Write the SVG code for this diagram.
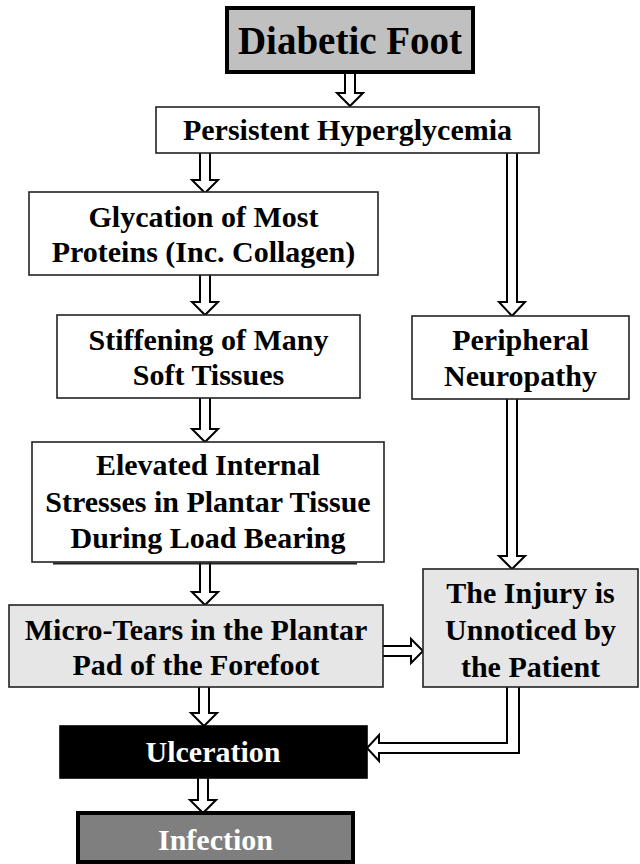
<svg xmlns="http://www.w3.org/2000/svg" width="640" height="864" viewBox="0 0 640 864">
<style>
.bg{fill:#ffffff}
.box{fill:#ffffff;stroke:#222;stroke-width:1.6}
.lgt{fill:#e6e6e6;stroke:#222;stroke-width:1.6}
.ttl{fill:#c0c0c0;stroke:#000;stroke-width:4}
.inf{fill:#7f7f7f;stroke:#000;stroke-width:4}
.blk{fill:#000;stroke:#000;stroke-width:1.6}
.t{font-family:"Liberation Serif","Times New Roman",serif;font-weight:bold;font-size:30px;fill:#000;text-anchor:middle}
.w{fill:#fff}
.big{font-size:39px}
.arr{fill:#fff;stroke:#000;stroke-width:2;stroke-linejoin:miter}
</style>
<rect class="bg" x="0" y="0" width="640" height="864"/>

<g id="connectors">
  <path class="arr" d="M345,72 L345,93 L337,93 L350,106 L363,93 L355,93 L355,72"/>
  <path class="arr" d="M200,153 L200,180 L192,180 L205,193 L218,180 L210,180 L210,153"/>
  <path class="arr" d="M507,153 L507,302 L499,302 L512,316 L525,302 L517,302 L517,153"/>
  <path class="arr" d="M200,275 L200,302 L192,302 L205,315 L218,302 L210,302 L210,275"/>
  <path class="arr" d="M200,398 L200,429 L192,429 L205,442 L218,429 L210,429 L210,398"/>
  <path class="arr" d="M200,562 L200,592 L192,592 L205,605 L218,592 L210,592 L210,562"/>
  <path class="arr" d="M507,399 L507,556 L499,556 L512,569 L525,556 L517,556 L517,399"/>
  <path class="arr" d="M383,646 L411,646 L411,639 L423,651 L411,663 L411,656 L383,656"/>
  <path class="arr" d="M199,687 L199,713 L191,713 L204,726 L217,713 L209,713 L209,687"/>
  <path class="arr" d="M507,687 L507,743 L379,743 L379,735 L367,748 L379,761 L379,753 L519,753 L519,687"/>
  <path class="arr" d="M198,778 L198,800 L190,800 L203,813 L216,800 L208,800 L208,778"/>
</g>

<g id="diabetic-foot">
  <rect class="ttl" x="227" y="8" width="246" height="64"/>
  <text class="t big" x="350" y="54">Diabetic Foot</text>
</g>

<g id="hyperglycemia">
  <rect class="box" x="156" y="107" width="383" height="46"/>
  <text class="t" x="347.5" y="140">Persistent Hyperglycemia</text>
</g>

<g id="glycation">
  <rect class="box" x="29" y="192" width="349" height="83"/>
  <text class="t"><tspan x="203.5" y="227">Glycation of Most</tspan><tspan x="203.5" y="262">Proteins (Inc. Collagen)</tspan></text>
</g>

<g id="stiffening">
  <rect class="box" x="57" y="315" width="303" height="83"/>
  <text class="t"><tspan x="208.5" y="350">Stiffening of Many</tspan><tspan x="208.5" y="385">Soft Tissues</tspan></text>
</g>

<g id="neuropathy">
  <rect class="box" x="412" y="316" width="217" height="83"/>
  <text class="t"><tspan x="520.5" y="350">Peripheral</tspan><tspan x="520.5" y="386">Neuropathy</tspan></text>
</g>

<g id="stresses">
  <rect class="box" x="32" y="442" width="352" height="120"/>
  <line x1="53" y1="563.5" x2="357" y2="563.5" stroke="#222" stroke-width="2"/>
  <text class="t"><tspan x="208" y="475">Elevated Internal</tspan><tspan x="208" y="512">Stresses in Plantar Tissue</tspan><tspan x="208" y="548">During Load Bearing</tspan></text>
</g>

<g id="micro-tears">
  <rect class="lgt" x="9" y="605" width="374" height="82"/>
  <text class="t"><tspan x="196" y="640">Micro-Tears in the Plantar</tspan><tspan x="196" y="675">Pad of the Forefoot</tspan></text>
</g>

<g id="unnoticed">
  <rect class="lgt" x="423" y="569" width="215" height="118"/>
  <text class="t"><tspan x="530.5" y="603">The Injury is</tspan><tspan x="530.5" y="640">Unnoticed by</tspan><tspan x="530.5" y="677">the Patient</tspan></text>
</g>

<g id="ulceration">
  <rect class="blk" x="60" y="726" width="307" height="52"/>
  <text class="t w" x="213" y="762">Ulceration</text>
</g>

<g id="infection">
  <rect class="inf" x="78" y="813" width="275" height="49"/>
  <text class="t w" x="215.5" y="850">Infection</text>
</g>
</svg>
